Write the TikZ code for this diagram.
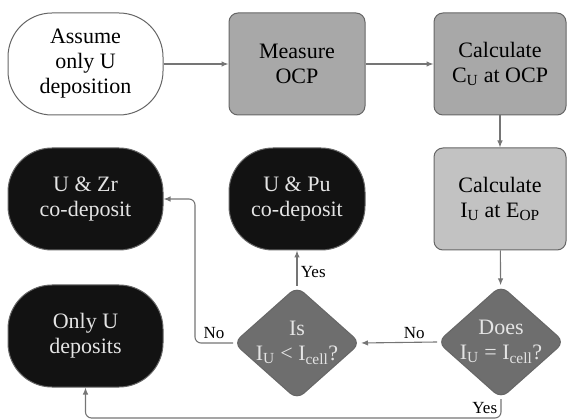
\documentclass[tikz,border=0pt]{standalone}
\usepackage{fontspec}
\setmainfont{LiberationSerif}[Extension=.ttf, UprightFont=*-Regular, BoldFont=*-Bold, ItalicFont=*-Italic]
\usetikzlibrary{positioning,arrows.meta,shapes.geometric}

\definecolor{linegray}{HTML}{757575}
\definecolor{edgegray}{HTML}{666666}
\definecolor{midgray}{HTML}{A8A8A8}
\definecolor{lightgray2}{HTML}{C2C2C2}
\definecolor{askgray}{HTML}{6E6E6E}
\definecolor{nearblack}{HTML}{121212}
\definecolor{palefont}{HTML}{E4E4E4}

\begin{document}
\begin{tikzpicture}[x=1pt, y=-1pt, >={Latex[length=7pt,width=5.5pt]},
    every node/.style={font=\rmfamily\fontsize{22}{25}\selectfont, align=center},
    endbox/.style={draw=edgegray, line width=1pt, rounded corners=44pt, minimum width=155pt, minimum height=102pt, inner sep=0pt},
    procbox/.style={draw=edgegray, line width=1pt, rounded corners=9pt, minimum height=102pt, inner sep=0pt},
    ask/.style={diamond, draw=edgegray, fill=askgray, text=palefont, line width=1pt, rounded corners=9pt, minimum width=127pt, minimum height=113pt, inner sep=-14pt},
    conn/.style={->, draw=linegray, line width=1.1pt},
    lbl/.style={font=\rmfamily\fontsize{17}{19}\selectfont}]
  \useasboundingbox (0,0) rectangle (567,419);

  % top row
  \node[endbox, fill=white] (assume) at (85.5,64) {Assume\\only U\\deposition};
  \node[procbox, fill=midgray, minimum width=136pt] (measure) at (297,64) {Measure\\OCP};
  \node[procbox, fill=midgray, minimum width=132pt] (calcC) at (500,64) {Calculate\\C\textsubscript{U} at OCP};

  % middle row
  \node[endbox, fill=nearblack, text=palefont] (UZr) at (85.5,199) {U \& Zr\\co-deposit};
  \node[endbox, fill=nearblack, text=palefont, minimum width=136pt] (UPu) at (297,199) {U \& Pu\\co-deposit};
  \node[procbox, fill=lightgray2, minimum width=132pt] (calcI) at (500,199) {Calculate\\I\textsubscript{U} at E\textsubscript{OP}};

  % bottom row
  \node[endbox, fill=nearblack, text=palefont] (onlyU) at (85.5,336) {Only U\\deposits};
  \node[ask] (isless) at (297,343) {Is\\I\textsubscript{U} < I\textsubscript{cell}?};
  \node[ask] (doeseq) at (501,342) {Does\\I\textsubscript{U} = I\textsubscript{cell}?};

  % connectors
  \draw[conn] (assume) -- (measure);
  \draw[conn] (measure) -- (calcC);
  \draw[conn] (calcC) -- (calcI);
  \draw[conn] (calcI) -- (doeseq);
  \draw[conn] (doeseq.west) -- node[lbl, above, pos=0.3] {No} (isless.east);
  \draw[conn] (isless.north) -- node[lbl, right, pos=0.4] {Yes} (UPu.south);
  \draw[conn, rounded corners=6pt] (isless.west) -- node[lbl, above] {No} ++(-38,0) |- (UZr.east);
  \draw[conn, rounded corners=6pt] (doeseq.south) -- node[lbl, left] {Yes} ++(0,19) -| (onlyU.south);
\end{tikzpicture}
\end{document}
